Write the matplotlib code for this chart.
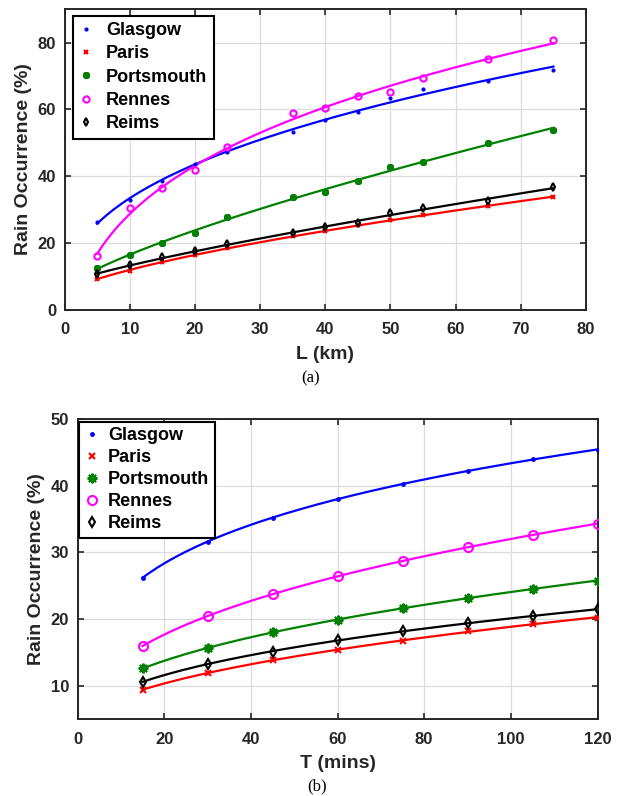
import numpy as np
import matplotlib
matplotlib.use("Agg")
import matplotlib.pyplot as plt

plt.rcParams['font.family'] = ['Liberation Sans', 'DejaVu Sans']
plt.rcParams['font.weight'] = 'bold'

cities = ['Glasgow', 'Paris', 'Portsmouth', 'Rennes', 'Reims']

# (a) rain occurrence vs link length
L_km = np.array([5, 10, 15, 20, 25, 35, 40, 45, 50, 55, 65, 75])
glasgow_L = [26.2, 33.0, 38.7, 43.8, 47.3, 53.3, 56.8, 59.3, 63.3, 66.0, 68.5, 71.8]
paris_L = [9.4, 11.8, 14.2, 16.5, 18.4, 22.0, 23.5, 25.3, 27.0, 28.5, 31.2, 33.7]
portsmouth_L = [12.7, 16.4, 19.9, 23.1, 27.7, 33.8, 35.3, 38.5, 42.7, 44.4, 50.0, 53.8]
rennes_L = [16.0, 30.5, 36.4, 42.0, 48.8, 58.8, 60.4, 63.9, 65.3, 69.4, 75.1, 80.8]
reims_L = [10.7, 13.3, 15.8, 17.6, 19.6, 23.0, 24.8, 26.0, 28.9, 30.6, 32.7, 36.7]

# (b) rain occurrence vs time window
T_min = np.array([15, 30, 45, 60, 75, 90, 105, 120])
glasgow_T = [26.2, 31.6, 35.2, 37.95, 40.3, 42.15, 44.05, 45.35]
paris_T = [9.4, 11.9, 13.8, 15.35, 16.75, 18.2, 19.25, 20.2]
portsmouth_T = [12.6, 15.6, 18.0, 19.85, 21.7, 23.15, 24.55, 25.7]
rennes_T = [15.95, 20.45, 23.7, 26.4, 28.7, 30.8, 32.6, 34.3]
reims_T = [10.6, 13.2, 15.1, 16.8, 18.25, 19.4, 20.4, 21.45]

colors = ['#0000ff', '#ff0000', '#008000', '#ff00ff', '#000000']
asterisk = (8, 2, 0)


def power_fit(x, y, xs):
  """Least squares fit of y = a*x^b + c, evaluated at xs."""
  x = np.asarray(x, float)
  y = np.asarray(y, float)
  best = None
  for b in np.linspace(0.02, 2.0, 500):
    A = np.column_stack([x**b, np.ones_like(x)])
    coef = np.linalg.lstsq(A, y, rcond=None)[0]
    err = np.sum((A @ coef - y)**2)
    if best is None or err < best[0]:
      best = (err, b, coef)
  _, b, coef = best
  return coef[0] * xs**b + coef[1]


def style_axes(ax):
  ax.grid(True, color='#dcdcdc', linewidth=0.9)
  ax.set_axisbelow(True)
  ax.tick_params(direction='in', top=True, right=True, length=4, width=1.2,
                 labelsize=12, colors='#262626')
  ax.tick_params(axis='x', pad=9)
  ax.tick_params(axis='y', pad=6)
  for s in ax.spines.values():
    s.set_linewidth(1.4)
    s.set_color('#262626')
  for lab in ax.get_xticklabels() + ax.get_yticklabels():
    lab.set_fontweight('bold')


def draw_panel(ax, x, series, markers, sizes, xlabel):
  xs = np.linspace(x[0], x[-1], 200)
  handles = []
  for y, c, m, ms, name in zip(series, colors, markers, sizes, cities):
    filled = m in ('.', asterisk)
    h, = ax.plot(x, y, linestyle='none', marker=m, markersize=ms,
                 markeredgewidth=1.5, color=c,
                 markerfacecolor=c if filled else 'none', label=name, zorder=3)
    ax.plot(xs, power_fit(x, y, xs), color=c, linewidth=1.6, zorder=2)
    handles.append(h)
  ax.set_xlabel(xlabel, fontsize=14, fontweight='bold', color='#262626', labelpad=6)
  ax.set_ylabel('Rain Occurrence (%)', fontsize=14, fontweight='bold',
                color='#262626', labelpad=4)
  return handles


fig = plt.figure(figsize=(6.21, 7.96), dpi=100)

ax1 = fig.add_axes([0.1039, 0.6106, 0.8398, 0.378])
h1 = draw_panel(ax1, L_km, [glasgow_L, paris_L, portsmouth_L, rennes_L, reims_L],
                ['.', 'x', asterisk, 'o', 'd'], [3, 3, 5, 4.5, 4], 'L (km)')
ax1.set_xlim(0, 80)
ax1.set_ylim(0, 90)
ax1.set_xticks(np.arange(0, 81, 10))
ax1.set_yticks(np.arange(0, 81, 20))
style_axes(ax1)
leg1 = ax1.legend(handles=h1, loc='upper left', bbox_to_anchor=(0.0157, 0.978),
                  borderaxespad=0, fancybox=False, framealpha=1, edgecolor='black',
                  prop={'size': 13, 'weight': 'bold'}, handlelength=0.8,
                  handletextpad=0.7, labelspacing=0.35, borderpad=0.35)
leg1.get_frame().set_linewidth(1.5)
fig.text(0.5, 1 - 378 / 796, '(a)', family='Liberation Serif', fontsize=12,
         fontweight='normal', ha='center', va='center')

ax2 = fig.add_axes([0.1248, 0.0967, 0.8374, 0.3769])
h2 = draw_panel(ax2, T_min, [glasgow_T, paris_T, portsmouth_T, rennes_T, reims_T],
                ['.', 'x', asterisk, 'o', 'd'], [4, 5, 7, 6.5, 5], 'T (mins)')
ax2.set_xlim(0, 120)
ax2.set_ylim(5, 50)
ax2.set_xticks(np.arange(0, 121, 20))
ax2.set_yticks(np.arange(10, 51, 10))
style_axes(ax2)
leg2 = ax2.legend(handles=h2, loc='upper left', bbox_to_anchor=(0.0035, 0.991),
                  borderaxespad=0, fancybox=False, framealpha=1, edgecolor='black',
                  prop={'size': 13, 'weight': 'bold'}, handlelength=0.8,
                  handletextpad=0.5, labelspacing=0.28, borderpad=0.3)
leg2.get_frame().set_linewidth(1.5)
fig.text(0.51, 1 - 786 / 796, '(b)', family='Liberation Serif', fontsize=12,
         fontweight='normal', ha='center', va='center')

fig.savefig('out.png', dpi=100)
